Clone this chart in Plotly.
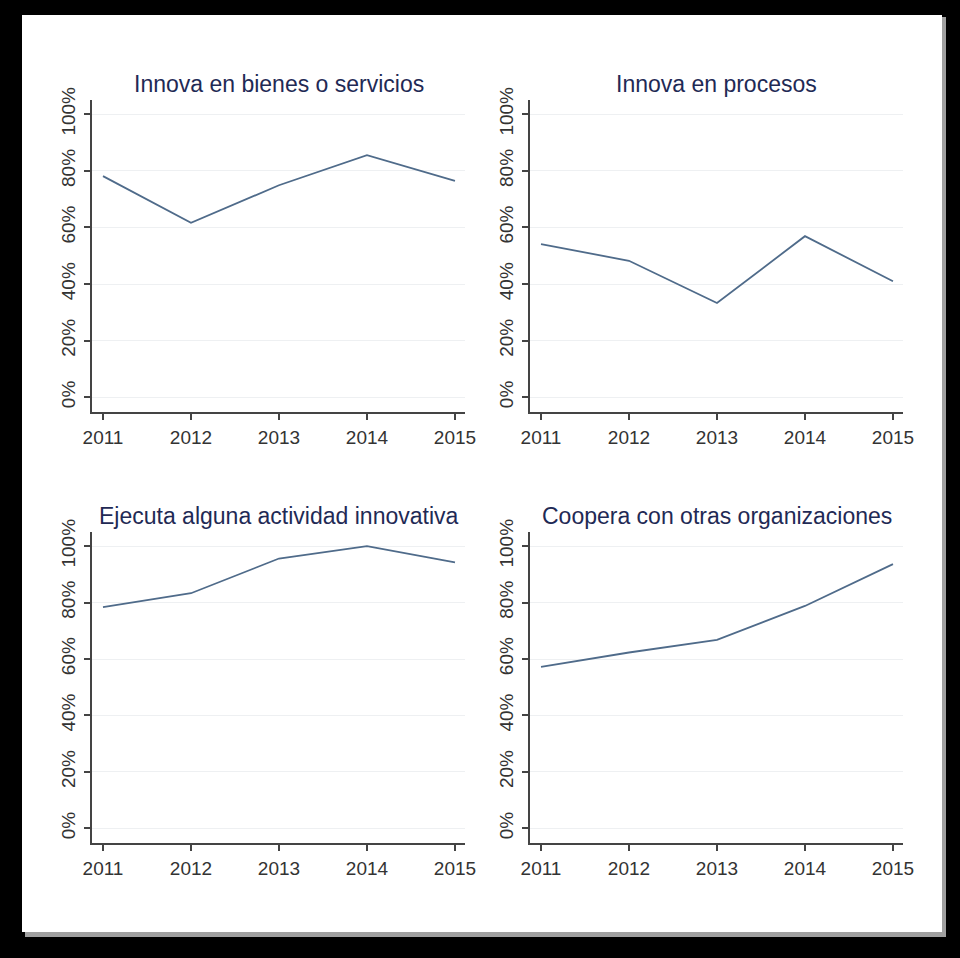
import plotly.graph_objects as go

years = [2011, 2012, 2013, 2014, 2015]
bienes_servicios = [78.1, 61.6, 74.9, 85.5, 76.4]
procesos = [54.1, 48.2, 33.3, 56.9, 41.0]
actividad_innovativa = [78.4, 83.3, 95.6, 100.0, 94.2]
coopera = [57.2, 62.3, 66.8, 78.8, 93.6]
titles = ["Innova en bienes o servicios", "Innova en procesos",
          "Ejecuta alguna actividad innovativa", "Coopera con otras organizaciones"]
series = [bienes_servicios, procesos, actividad_innovativa, coopera]
y_ticks = [0, 20, 40, 60, 80, 100]
y_tick_labels = ["0%", "20%", "40%", "60%", "80%", "100%"]

W, H = 960, 958
def px(x):
    return x / W
def py(y):
    return 1 - y / H

col_dom = [[px(92), px(465)], [px(530), px(903)]]
row_dom = [[py(412), py(100)], [py(843), py(532)]]

LINE = "#4f6b8a"
AX = "#444444"
TXT = "#333333"
TITLE = "#1f2a55"
FONT = "Liberation Sans, Arial, sans-serif"

fig = go.Figure()
layout = dict(
    width=W, height=H,
    margin=dict(l=0, r=0, t=0, b=0, autoexpand=False),
    paper_bgcolor="#000000",
    plot_bgcolor="rgba(0,0,0,0)",
    showlegend=False,
    font=dict(family=FONT, color=TXT),
)
annotations = []
for i in range(4):
    r, c = divmod(i, 2)
    n = "" if i == 0 else str(i + 1)
    fig.add_trace(go.Scatter(x=years, y=series[i], mode="lines",
                             line=dict(color=LINE, width=1.8),
                             xaxis="x" + n, yaxis="y" + n))
    layout["xaxis" + n] = dict(
        domain=col_dom[c], anchor="y" + n, range=[2010.875, 2015.114],
        tickmode="array", tickvals=years, ticktext=[str(y) for y in years],
        showline=True, linecolor=AX, linewidth=1.5,
        ticks="outside", ticklen=6, tickcolor=AX, tickwidth=1.5,
        ticklabelstandoff=1, automargin=False,
        showgrid=False, zeroline=False,
        tickfont=dict(size=19, color=TXT, family=FONT),
    )
    layout["yaxis" + n] = dict(
        domain=row_dom[r], anchor="x" + n, range=[-5.2, 105],
        tickmode="array", tickvals=y_ticks, ticktext=y_tick_labels,
        tickangle=-90, automargin=False,
        showline=True, linecolor=AX, linewidth=1.5,
        ticks="outside", ticklen=6, tickcolor=AX, tickwidth=1.5,
        ticklabelstandoff=2,
        showgrid=True, gridcolor="#eef0f2", gridwidth=1,
        zeroline=False,
        tickfont=dict(size=19, color=TXT, family=FONT),
    )
    annotations.append(dict(
        text=titles[i], xref="paper", yref="paper",
        x=(col_dom[c][0] + col_dom[c][1]) / 2,
        y=row_dom[r][1] + 16 / H, yanchor="middle", xanchor="center",
        showarrow=False,
        font=dict(size=23, color=TITLE, family=FONT),
    ))
layout["annotations"] = annotations
layout["shapes"] = [
    dict(type="rect", xref="paper", yref="paper", layer="below",
         x0=px(25), x1=px(946), y0=py(937), y1=py(17),
         fillcolor="#a0a0a0", line=dict(width=0)),
    dict(type="rect", xref="paper", yref="paper", layer="below",
         x0=px(22), x1=px(942), y0=py(932), y1=py(15),
         fillcolor="#ffffff", line=dict(width=0)),
]
fig.update_layout(**layout)
fig.write_html("out.html")
